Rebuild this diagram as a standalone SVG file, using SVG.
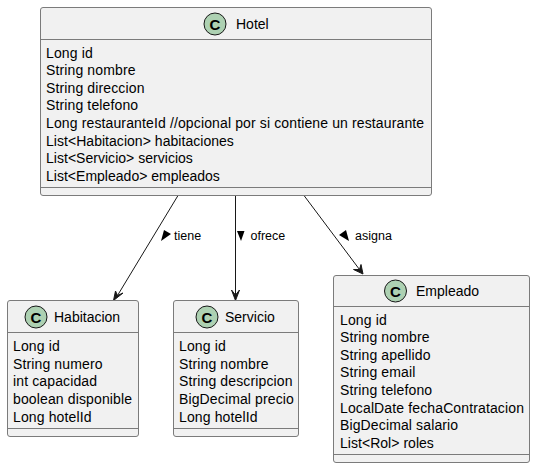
<svg xmlns="http://www.w3.org/2000/svg" width="535" height="468" viewBox="0 0 535 468">
<style>
text{font-family:"Liberation Sans",Arial,sans-serif;font-size:14px;fill:#000}
.m{letter-spacing:.13px}
.box{fill:#f1f1f1;stroke:#7b7b7b;stroke-width:1}
.sep{stroke:#7b7b7b;stroke-width:1}
.spot{fill:#add1b2;stroke:#181818;stroke-width:1}
.c{font-weight:bold;font-size:15px}
.lab{font-size:12.500px}
.edge{fill:none;stroke:#181818;stroke-width:1}
.head{fill:#181818;stroke:#181818;stroke-width:1}
.dir{fill:#000}
</style>
<g id="connectors">
<path class="edge" d="M178 195.500L117.500 295.500"/><path class="head" d="M113.500 300.500L115.500 291L117.500 295.500L123 293Z"/>
<path class="edge" d="M235.500 195.500V295.500"/><path class="head" d="M235.500 300.500L231.500 290L235.500 295L239.500 290Z"/>
<path class="edge" d="M304 195.500L359.500 269.500"/><path class="head" d="M363 274L353.500 269.500L359.500 269.500L361 264.500Z"/>
<polygon class="dir" points="164,230 171,234 161,241"/>
<text class="lab" x="174" y="240">tiene</text>
<polygon class="dir" points="237,231 244.500,231 241,241"/>
<text class="lab" x="250.500" y="240">ofrece</text>
<polygon class="dir" points="346,230 339,235 349,241"/>
<text class="lab" x="355" y="240">asigna</text>
</g>
<g id="hotel">
<rect class="box" x="40.500" y="7.500" width="391" height="188" rx="2.500"/>
<path class="sep" d="M40.500 39.500H431.500M40.500 187.500H431.500"/>
<circle class="spot" cx="215" cy="24" r="11"/>
<text class="c" x="215" y="29.500" text-anchor="middle">C</text>
<text x="236" y="29">Hotel</text>
<g class="m">
<text x="46" y="58">Long id</text>
<text x="46" y="75">String nombre</text>
<text x="46" y="93">String direccion</text>
<text x="46" y="110">String telefono</text>
<text x="46" y="128">Long restauranteId //opcional por si contiene un restaurante</text>
<text x="46" y="146" textLength="188">List&lt;Habitacion&gt; habitaciones</text>
<text x="46" y="163" textLength="147">List&lt;Servicio&gt; servicios</text>
<text x="46" y="181" textLength="174">List&lt;Empleado&gt; empleados</text>
</g>
</g>
<g id="habitacion">
<rect class="box" x="7.500" y="300.500" width="131" height="136" rx="2.500"/>
<path class="sep" d="M7.500 332.500H138.500M7.500 428.500H138.500"/>
<circle class="spot" cx="36" cy="317" r="11"/>
<text class="c" x="36" y="322.500" text-anchor="middle">C</text>
<text x="54" y="322">Habitacion</text>
<g class="m">
<text x="13" y="351">Long id</text>
<text x="13" y="369">String numero</text>
<text x="13" y="386">int capacidad</text>
<text x="13" y="404">boolean disponible</text>
<text x="13" y="422">Long hotelId</text>
</g>
</g>
<g id="servicio">
<rect class="box" x="173.500" y="300.500" width="125" height="136" rx="2.500"/>
<path class="sep" d="M173.500 332.500H298.500M173.500 428.500H298.500"/>
<circle class="spot" cx="207" cy="317" r="11"/>
<text class="c" x="207" y="322.500" text-anchor="middle">C</text>
<text x="225" y="322">Servicio</text>
<g class="m">
<text x="179" y="351">Long id</text>
<text x="179" y="369">String nombre</text>
<text x="179" y="386">String descripcion</text>
<text x="179" y="404">BigDecimal precio</text>
<text x="179" y="422">Long hotelId</text>
</g>
</g>
<g id="empleado">
<rect class="box" x="333.500" y="275.500" width="196" height="187" rx="2.500"/>
<path class="sep" d="M333.500 306.500H529.500M333.500 454.500H529.500"/>
<circle class="spot" cx="395.500" cy="291" r="11"/>
<text class="c" x="395.500" y="296.500" text-anchor="middle">C</text>
<text x="416" y="296">Empleado</text>
<g class="m">
<text x="340" y="325">Long id</text>
<text x="340" y="342">String nombre</text>
<text x="340" y="360">String apellido</text>
<text x="340" y="377">String email</text>
<text x="340" y="395">String telefono</text>
<text x="340" y="413">LocalDate fechaContratacion</text>
<text x="340" y="430">BigDecimal salario</text>
<text x="340" y="448" textLength="94">List&lt;Rol&gt; roles</text>
</g>
</g>
</svg>
